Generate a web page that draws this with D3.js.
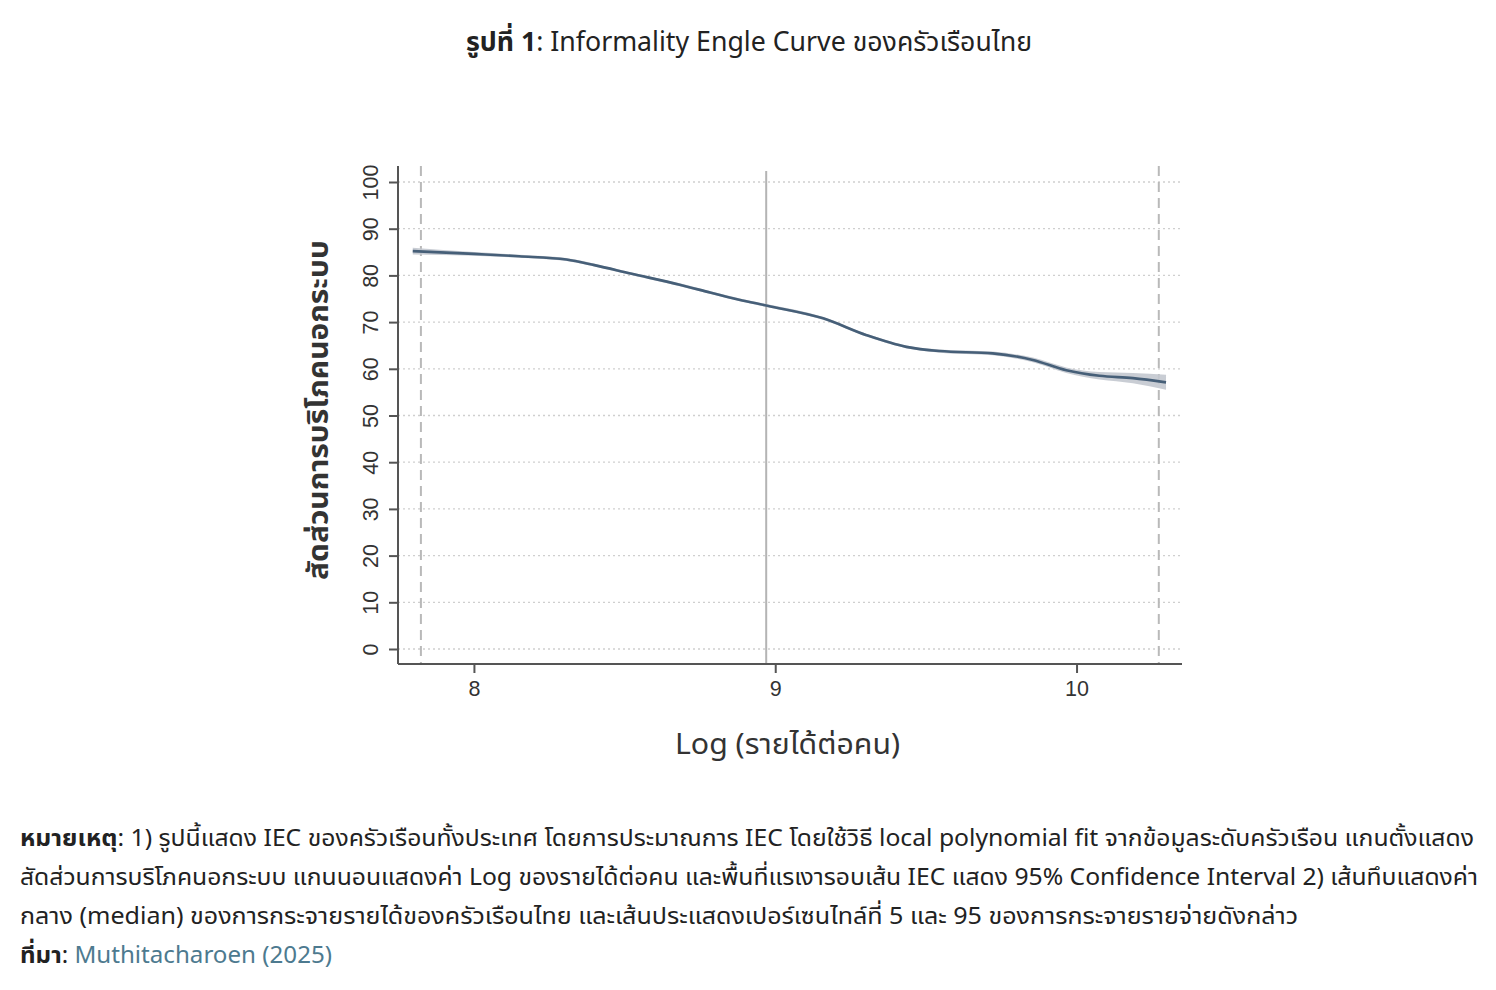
<!DOCTYPE html>
<html>
<head>
<meta charset="utf-8">
<script src="https://cdnjs.cloudflare.com/ajax/libs/d3/7.8.5/d3.min.js"></script>
<style>
  html, body { margin: 0; padding: 0; background: #fff; }
  svg { display: block; }
  .thai { font-family: "Noto Sans Thai", "Noto Sans", sans-serif; }
  .num { font-family: "Liberation Sans", Arial, sans-serif; }
</style>
</head>
<body>
<svg id="chart" width="1496" height="990"></svg>
<script>
// ---------- data ----------
const incomeLog = [7.797, 8.0, 8.15, 8.307, 8.4, 8.52, 8.683, 8.75, 8.88, 8.974, 9.159, 9.303, 9.435, 9.546, 9.722, 9.855, 9.966, 10.076, 10.187, 10.297];
const informalShare = [85.2, 84.6, 84.1, 83.4, 82.2, 80.4, 78.0, 76.9, 74.8, 73.5, 70.8, 67.2, 64.7, 63.8, 63.3, 61.9, 59.7, 58.5, 58.0, 57.1];
const ciHalfWidth = [0.7, 0.4, 0.3, 0.3, 0.3, 0.3, 0.3, 0.3, 0.3, 0.3, 0.3, 0.3, 0.3, 0.35, 0.4, 0.5, 0.6, 0.8, 1.1, 1.6];
const xTicks = [8, 9, 10];
const yTicks = [0, 10, 20, 30, 40, 50, 60, 70, 80, 90, 100];
const medianIncome = 8.97;
const percentileLines = [7.824, 10.273]; // p5, p95
const xDomain = [7.748, 10.35];
const yDomain = [0, 100];

const titleBold = "รูปที่ 1";
const titleRest = ": Informality Engle Curve ของครัวเรือนไทย";
const xTitle = "Log (รายได้ต่อคน)";
const yTitle = "สัดส่วนการบริโภคนอกระบบ";
const noteLabel = "หมายเหตุ";
const noteLines = [
  ": 1) รูปนี้แสดง IEC ของครัวเรือนทั้งประเทศ โดยการประมาณการ IEC โดยใช้วิธี local polynomial fit จากข้อมูลระดับครัวเรือน แกนตั้งแสดง",
  "สัดส่วนการบริโภคนอกระบบ แกนนอนแสดงค่า Log ของรายได้ต่อคน และพื้นที่แรเงารอบเส้น IEC แสดง 95% Confidence Interval 2) เส้นทึบแสดงค่า",
  "กลาง (median) ของการกระจายรายได้ของครัวเรือนไทย และเส้นประแสดงเปอร์เซนไทล์ที่ 5 และ 95 ของการกระจายรายจ่ายดังกล่าว"
];
const noteWidths = [1454, 1458, 1278];
const sourceLabel = "ที่มา";
const sourceText = "Muthitacharoen (2025)";

// ---------- layout ----------
const svg = d3.select("#chart");
const plot = { left: 398, right: 1182, top: 166, bottom: 664 };
const x = d3.scaleLinear().domain(xDomain).range([plot.left, plot.right]);
const y = d3.scaleLinear().domain(yDomain).range([649, 182]);

svg.append("rect").attr("width", 1496).attr("height", 990).attr("fill", "#fff");

// title
const title = svg.append("text").attr("class", "thai").attr("x", 466).attr("y", 51)
  .attr("font-size", 27).attr("fill", "#222")
  .attr("textLength", 566).attr("lengthAdjust", "spacingAndGlyphs");
title.append("tspan").attr("font-weight", "bold").text(titleBold);
title.append("tspan").text(titleRest);

// gridlines
svg.append("g").selectAll("line").data(yTicks).join("line")
  .attr("x1", plot.left).attr("x2", plot.right)
  .attr("y1", d => y(d)).attr("y2", d => y(d))
  .attr("stroke", "#cfcfcf").attr("stroke-width", 1.3).attr("stroke-dasharray", "2,3");

// percentile dashed lines
svg.append("g").selectAll("line").data(percentileLines).join("line")
  .attr("x1", d => x(d)).attr("x2", d => x(d))
  .attr("y1", plot.top).attr("y2", plot.bottom)
  .attr("stroke", "#b9b9b9").attr("stroke-width", 2).attr("stroke-dasharray", "10,6");

// median line
svg.append("line")
  .attr("x1", x(medianIncome)).attr("x2", x(medianIncome))
  .attr("y1", 171).attr("y2", plot.bottom)
  .attr("stroke", "#b4b4b4").attr("stroke-width", 2);

// CI band
const pts = incomeLog.map((v, i) => ({ x: v, y: informalShare[i], h: ciHalfWidth[i] }));
svg.append("path").datum(pts)
  .attr("d", d3.area().curve(d3.curveMonotoneX)
    .x(d => x(d.x)).y0(d => y(d.y - d.h)).y1(d => y(d.y + d.h)))
  .attr("fill", "#c3c8cf").attr("opacity", 0.9);

// IEC line
svg.append("path").datum(pts)
  .attr("d", d3.line().curve(d3.curveMonotoneX).x(d => x(d.x)).y(d => y(d.y)))
  .attr("fill", "none").attr("stroke", "#465f78").attr("stroke-width", 2.6);

// x axis
const xAxis = svg.append("g").attr("transform", `translate(0,${plot.bottom})`)
  .call(d3.axisBottom(x).tickValues(xTicks).tickFormat(d3.format("d")).tickSize(9).tickPadding(8));
xAxis.attr("font-family", null).attr("font-size", null);
xAxis.select(".domain").attr("stroke", "#555").attr("stroke-width", 2)
  .attr("d", `M${plot.left},0H${plot.right}`);
xAxis.selectAll(".tick line").attr("stroke", "#555").attr("stroke-width", 2);
xAxis.selectAll(".tick text").attr("class", "num")
  .attr("font-size", 21.5).attr("fill", "#333");

// y axis
const yAxis = svg.append("g").attr("transform", `translate(${plot.left},0)`)
  .call(d3.axisLeft(y).tickValues(yTicks).tickSize(9).tickPadding(0).tickFormat(d3.format("d")));
yAxis.attr("font-family", null).attr("font-size", null);
yAxis.select(".domain").attr("stroke", "#555").attr("stroke-width", 2)
  .attr("d", `M0,${plot.top}V${plot.bottom}`);
yAxis.selectAll(".tick line").attr("stroke", "#555").attr("stroke-width", 2);
yAxis.selectAll(".tick text").attr("class", "num")
  .attr("font-size", 21.5).attr("fill", "#333")
  .attr("text-anchor", "middle").attr("dy", null).attr("x", null)
  .attr("transform", "translate(-27,0) rotate(-90)")
  .attr("dominant-baseline", "central");

// axis titles
svg.append("text").attr("class", "thai").attr("x", 675).attr("y", 754)
  .attr("font-size", 29).attr("fill", "#333")
  .attr("textLength", 225).attr("lengthAdjust", "spacingAndGlyphs").text(xTitle);
svg.append("text").attr("class", "thai").attr("transform", "translate(328,580) rotate(-90)")
  .attr("font-size", 29).attr("font-weight", "bold")
  .attr("textLength", 340).attr("lengthAdjust", "spacingAndGlyphs")
  .attr("fill", "#333").text(yTitle);

// notes
const noteY0 = 846, lh = 39;
const n1 = svg.append("text").attr("class", "thai").attr("x", 20).attr("y", noteY0)
  .attr("font-size", 23.5).attr("fill", "#222")
  .attr("textLength", noteWidths[0]).attr("lengthAdjust", "spacingAndGlyphs");
n1.append("tspan").attr("font-weight", "bold").text(noteLabel);
n1.append("tspan").text(noteLines[0]);
noteLines.slice(1).forEach((t, i) => {
  svg.append("text").attr("class", "thai").attr("x", 20).attr("y", noteY0 + lh * (i + 1))
    .attr("font-size", 23.5).attr("fill", "#222")
    .attr("textLength", noteWidths[i + 1]).attr("lengthAdjust", "spacingAndGlyphs").text(t);
});
const s = svg.append("text").attr("class", "thai").attr("x", 20).attr("y", noteY0 + lh * 3)
  .attr("font-size", 23.5).attr("fill", "#222")
  .attr("textLength", 312).attr("lengthAdjust", "spacingAndGlyphs");
s.append("tspan").attr("font-weight", "bold").text(sourceLabel);
s.append("tspan").text(": ");
s.append("tspan").attr("fill", "#4d7a8f").text(sourceText);
</script>
</body>
</html>
